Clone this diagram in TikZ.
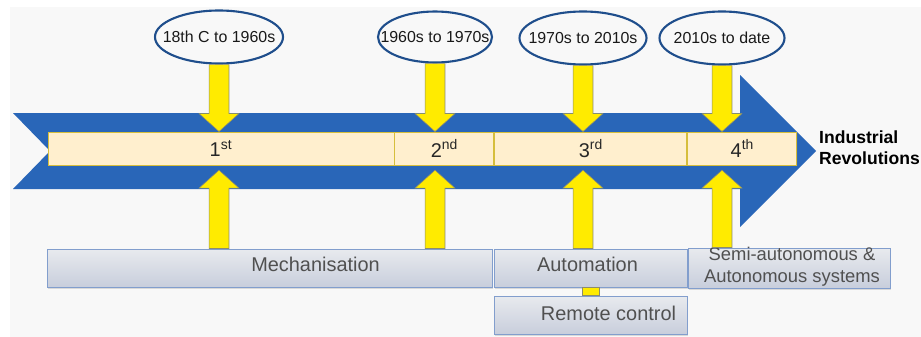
\documentclass[tikz,border=0pt]{standalone}
\usepackage{fontspec}
\setmainfont{Liberation Sans}
\usetikzlibrary{positioning,calc,shapes.geometric,shadows}

\definecolor{bandblue}{RGB}{41,102,184}
\definecolor{ringblue}{RGB}{31,78,140}
\definecolor{bargold}{RGB}{214,190,60}
\definecolor{barfill}{RGB}{255,239,206}
\definecolor{arrowyellow}{RGB}{255,235,0}
\definecolor{arrowedge}{RGB}{140,140,110}
\definecolor{boxtop}{RGB}{232,234,238}
\definecolor{boxbottom}{RGB}{200,206,220}
\definecolor{boxedge}{RGB}{130,158,205}
\definecolor{boxtext}{RGB}{80,80,80}
\definecolor{paper}{RGB}{248,248,248}

\def\pxu{0.03cm}

\tikzset{
  period/.style={ellipse, draw=ringblue, line width=1.8pt, fill=paper, inner sep=0pt},
  periodtext/.style={font=\fontsize{13.6}{16}\selectfont, text=black!90},
  stage/.style={rectangle, draw=bargold, line width=0.8pt, fill=barfill, minimum height=33*\pxu,
    inner sep=0pt, font=\fontsize{17}{20}\selectfont, text=black!85,
    drop shadow={opacity=0.15, shadow xshift=0.8pt, shadow yshift=-1pt}},
  sector/.style={rectangle, draw=boxedge, line width=0.8pt, top color=boxtop, bottom color=boxbottom,
    minimum height=38*\pxu, inner sep=0pt,
    drop shadow={opacity=0.25, shadow xshift=1pt, shadow yshift=-1.5pt}},
  sectortext/.style={font=\fontsize{17}{20}\selectfont, text=boxtext},
  yarrow/.style={fill=arrowyellow, draw=arrowedge, line width=0.5pt},
}

% block arrow from #1 to #2, #3 = 1 down, -1 up
\newcommand{\blockarrow}[3]{%
  \draw[yarrow] let \p1=(#1), \p2=(#2) in
    ({\x1-8.5pt},{\y2+#3*15.3pt}) -- ({\x1-8.5pt},\y1) -- ({\x1+8.5pt},\y1)
    -- ({\x1+8.5pt},{\y2+#3*15.3pt}) -- ({\x1+17pt},{\y2+#3*15.3pt})
    -- (\x1,\y2) -- ({\x1-17pt},{\y2+#3*15.3pt}) -- cycle;}

\begin{document}
\begin{tikzpicture}[x=0.03cm, y=-0.03cm]

      \useasboundingbox (0,0) rectangle (921,337);
      \fill[paper] (10,7) rectangle (921,337);

      % the big arrow
      \fill[bandblue] (13,113) -- (740,113) -- (740,75) -- (816,151) -- (740,227)
        -- (740,189) -- (13,189) -- (50,151) -- cycle;

      % revolutions
      \node[stage, minimum width=346*\pxu] (b1) at (221,148.5) {1\textsuperscript{st}};
      \node[stage, minimum width=99*\pxu, right=0pt of b1] (b2) {2\textsuperscript{nd}};
      \node[stage, minimum width=192*\pxu, right=0pt of b2] (b3) {3\textsuperscript{rd}};
      \node[stage, minimum width=109*\pxu, right=0pt of b3] (b4) {4\textsuperscript{th}};
      \node[anchor=west, align=left, inner xsep=0pt, font=\bfseries\fontsize{15}{18}\selectfont] (title)
        at (819,148) {Industrial\\Revolutions};

      % periods
      \node[period, minimum width=128*\pxu, minimum height=53*\pxu,
        label={[periodtext]center:18th C to 1960s}] (e1) at (219,37) {};
      \node[period, minimum width=114*\pxu, minimum height=51*\pxu,
        label={[periodtext]center:1960s to 1970s}] (e2) at (435,37) {};
      \node[period, minimum width=127*\pxu, minimum height=53*\pxu,
        label={[periodtext]center:1970s to 2010s}] (e3) at (583,38) {};
      \node[period, minimum width=125*\pxu, minimum height=53*\pxu,
        label={[periodtext]center:2010s to date}] (e4) at (722,38) {};

      % sectors
      \node[sector, minimum width=445*\pxu,
        label={[sectortext, xshift=46*\pxu, yshift=4*\pxu]center:Mechanisation}] (mech) at (269.5,268) {};
      \node[sector, minimum width=193*\pxu,
        label={[sectortext, xshift=-3*\pxu, yshift=4*\pxu]center:Automation}] (auto) at (590.5,268) {};
      \node[sector, minimum width=193*\pxu,
        label={[sectortext, xshift=18*\pxu, yshift=2*\pxu]center:Remote control}] (remote) at (590.5,315) {};
      \node[sector, minimum width=202*\pxu, minimum height=40*\pxu,
        label={[sectortext, font=\fontsize{15.7}{18.7}\selectfont, align=center, xshift=3*\pxu, yshift=1*\pxu]center:Semi-autonomous \&\\Autonomous systems}] (semi) at (789,268) {};

      % arrows down
      \blockarrow{e1.south}{e1.south |- b1.north}{1}
      \blockarrow{e2.south}{e2.south |- b2.north}{1}
      \blockarrow{e3.south}{e3.south |- b3.north}{1}
      \blockarrow{e4.south}{e4.south |- b4.north}{1}
      % arrows up
      \blockarrow{e1 |- mech.north}{$(e1 |- b1.south)+(0,-4pt)$}{-1}
      \blockarrow{e2 |- mech.north}{$(e2 |- b2.south)+(0,-4pt)$}{-1}
      \blockarrow{e3 |- auto.north}{$(e3 |- b3.south)+(0,-4pt)$}{-1}
      \blockarrow{e4 |- semi.north}{$(e4 |- b4.south)+(0,-4pt)$}{-1}
      %\draw[yarrow] (auto.south) -- (remote.north);
      \draw[yarrow] let \p1=(auto.south), \p2=(remote.north) in
        ({\x1-7.2pt},\y1) rectangle ({\x1+7.2pt},\y2);
    \end{tikzpicture}
\end{document}
